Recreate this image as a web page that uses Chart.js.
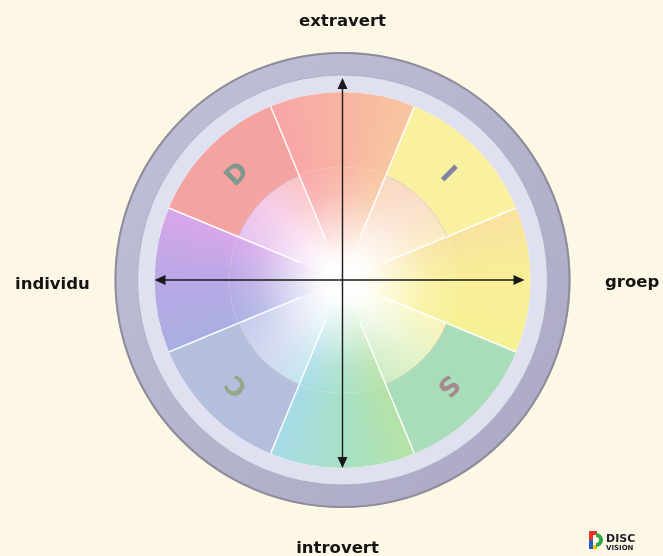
<!DOCTYPE html>
<html><head><meta charset="utf-8">
<script src="https://cdn.jsdelivr.net/npm/chart.js@4.4.1/dist/chart.umd.min.js"></script>
<style>html,body{margin:0;padding:0;background:#fdf7e5;}#wrap{width:663px;height:556px;position:relative}</style>
</head><body><div id="wrap"><canvas id="c" width="663" height="556"></canvas></div>
<script>
// sectors clockwise, starting with the top wedge
const categories = ['Extravert', 'I', 'Groep', 'S', 'Introvert', 'C', 'Individu', 'D'];
const sectorValues = [1, 1, 1, 1, 1, 1, 1, 1];
const discLetters = ['', 'I', '', 'S', '', 'C', '', 'D'];
const axisTop = 'extravert';
const axisBottom = 'introvert';
const axisLeft = 'individu';
const axisRight = 'groep';
const ringValue = [1];

const bandColors = [null, '#f9f1a0', null, '#a9dcb8', null, '#b3bfdc', null, '#f4a3a1'];
const letterColors = ['', 'rgba(115,120,160,0.9)', '', 'rgba(165,125,135,0.9)', '', 'rgba(145,160,125,0.85)', '', 'rgba(115,150,138,0.9)'];
const hueStops = [
  [0, '#f8ef96'], [0.0625, '#f7f196'], [0.125, '#d8eeb0'], [0.1875, '#b6e2a6'],
  [0.25, '#a6e0c6'], [0.3125, '#a6dbe8'], [0.375, '#bcc6ea'], [0.4375, '#a9afe2'],
  [0.5, '#b9a8e6'], [0.5625, '#d8a6ea'], [0.625, '#f0b0dc'], [0.6875, '#f8a6a8'],
  [0.75, '#f8b4a2'], [0.8125, '#f8c6a0'], [0.875, '#f8cfb0'], [0.9375, '#f8e2a0'], [1, '#f8ef96']
];

const cache = {};
function center(chart) {
  const a = chart.chartArea;
  return {x: (a.left + a.right) / 2, y: (a.top + a.bottom) / 2};
}
function conic(chart, pale) {
  const key = pale ? 'pale' : 'full';
  if (cache[key]) return cache[key];
  const {x, y} = center(chart);
  const g = chart.ctx.createConicGradient(0, x, y);
  hueStops.forEach(([o, c]) => {
    if (!pale) { g.addColorStop(o, c); return; }
    const r = parseInt(c.slice(1, 3), 16), gg = parseInt(c.slice(3, 5), 16), b = parseInt(c.slice(5, 7), 16);
    const m = v => Math.round(v + (255 - v) * 0.3);
    g.addColorStop(o, `rgb(${m(r)},${m(gg)},${m(b)})`);
  });
  cache[key] = g;
  return g;
}

const decor = {
  id: 'decor',
  afterDatasetsDraw(chart) {
    const ctx = chart.ctx;
    const band = chart.getDatasetMeta(2).data;
    const outer = chart.getDatasetMeta(0).data[0];
    const cx = band[0].x, cy = band[0].y;
    const rOut = band[0].outerRadius, rIn = band[0].innerRadius;
    ctx.save();
    // outer rim edge
    ctx.beginPath();
    ctx.arc(cx, cy, outer.outerRadius - 1, 0, Math.PI * 2);
    ctx.strokeStyle = '#8d8c99'; ctx.lineWidth = 2; ctx.stroke();
    ctx.beginPath();
    ctx.arc(cx, cy, outer.innerRadius, 0, Math.PI * 2);
    ctx.strokeStyle = 'rgba(150,148,175,0.6)'; ctx.lineWidth = 1; ctx.stroke();
    // separators
    band.forEach(arc => {
      const a = arc.startAngle;
      ctx.beginPath();
      ctx.moveTo(cx + Math.cos(a) * rOut, cy + Math.sin(a) * rOut);
      ctx.lineTo(cx + Math.cos(a) * 45, cy + Math.sin(a) * 45);
      ctx.strokeStyle = 'rgba(255,255,255,0.95)'; ctx.lineWidth = 1.5; ctx.stroke();
    });
    // white glow in the centre
    const R = rIn + 6;
    const g = ctx.createRadialGradient(cx, cy, 0, cx, cy, R);
    g.addColorStop(0, 'rgba(255,255,255,1)');
    g.addColorStop(0.18, 'rgba(255,255,255,0.95)');
    g.addColorStop(0.45, 'rgba(255,255,255,0.55)');
    g.addColorStop(0.72, 'rgba(255,255,255,0.18)');
    g.addColorStop(1, 'rgba(255,255,255,0)');
    ctx.beginPath(); ctx.arc(cx, cy, R, 0, Math.PI * 2);
    ctx.fillStyle = g; ctx.fill();
    // inner arcs of DISC sectors and letters
    band.forEach((arc, i) => {
      if (!discLetters[i]) return;
      ctx.beginPath();
      ctx.arc(cx, cy, rIn, arc.startAngle, arc.endAngle);
      ctx.strokeStyle = 'rgba(170,160,160,0.35)'; ctx.lineWidth = 1; ctx.stroke();
      const mid = (arc.startAngle + arc.endAngle) / 2;
      const rl = (rIn + rOut) / 2 - 2;
      ctx.save();
      ctx.translate(cx + Math.cos(mid) * rl, cy + Math.sin(mid) * rl);
      ctx.rotate(mid + Math.PI / 2);
      ctx.font = 'bold 26px "DejaVu Sans"';
      ctx.textAlign = 'center'; ctx.textBaseline = 'middle';
      ctx.fillStyle = letterColors[i];
      ctx.fillText(discLetters[i], 0, 0);
      ctx.restore();
    });
    // arrows
    ctx.strokeStyle = '#1a1a1a'; ctx.fillStyle = '#1a1a1a'; ctx.lineWidth = 1.4;
    const top = rOut + 14, bot = rOut, lft = rOut, rgt = rOut - 6;
    ctx.beginPath();
    ctx.moveTo(cx, cy - top + 4); ctx.lineTo(cx, cy + bot - 4);
    ctx.moveTo(cx - lft + 4, cy); ctx.lineTo(cx + rgt - 4, cy);
    ctx.stroke();
    const head = (tx, ty, dx, dy) => {
      const px = -dy, py = dx;
      ctx.beginPath();
      ctx.moveTo(tx, ty);
      ctx.lineTo(tx - dx * 11 + px * 5, ty - dy * 11 + py * 5);
      ctx.lineTo(tx - dx * 11 - px * 5, ty - dy * 11 - py * 5);
      ctx.closePath(); ctx.fill();
    };
    head(cx, cy - top, 0, -1);
    head(cx, cy + bot, 0, 1);
    head(cx - lft, cy, -1, 0);
    head(cx + rgt, cy, 1, 0);
    // axis labels
    ctx.font = 'bold 16.5px "DejaVu Sans"';
    ctx.fillStyle = '#141414';
    ctx.textBaseline = 'alphabetic';
    ctx.textAlign = 'center';
    ctx.fillText(axisTop, cx, 26);
    ctx.fillText(axisBottom, cx - 5, 553);
    ctx.textAlign = 'left';
    ctx.fillText(axisLeft, 15, 289);
    ctx.fillText(axisRight, 605, 287);
    // logo
    const lx = 591, ly = 533;
    ctx.lineWidth = 4;
    ctx.lineCap = 'butt';
    ctx.fillStyle = '#2a5cc8'; ctx.fillRect(lx - 2, ly + 7, 4, 9);
    ctx.fillStyle = '#e8322a'; ctx.fillRect(lx - 2, ly - 2, 4, 9); ctx.fillRect(lx - 2, ly - 2, 8, 4);
    ctx.fillStyle = '#f6c000'; ctx.fillRect(lx + 2, ly + 12, 4, 4);
    ctx.beginPath(); ctx.strokeStyle = '#2fa84a'; ctx.arc(lx + 5, ly + 7, 5, -Math.PI / 2, Math.PI / 2); ctx.stroke();
    ctx.fillStyle = '#1e1e2a';
    ctx.font = 'bold 11px "DejaVu Sans"';
    ctx.fillText('DISC', 606, 542);
    ctx.font = 'bold 7px "DejaVu Sans"';
    ctx.fillText('VISION', 606, 550);
    ctx.restore();
  }
};

new Chart(document.getElementById('c'), {
  type: 'doughnut',
  data: {
    labels: categories,
    datasets: [
      {label: 'rand', data: ringValue, weight: 23, borderWidth: 0,
        backgroundColor: (c) => {
          const ch = c.chart; if (!ch.chartArea) return '#b4b2cc';
          const {x, y} = center(ch);
          const g = ch.ctx.createLinearGradient(x - 200, y - 200, x + 200, y + 200);
          g.addColorStop(0, '#c0bfd7'); g.addColorStop(1, '#aba9c5');
          return g;
        }},
      {label: 'ring', data: ringValue, weight: 17, borderWidth: 0, backgroundColor: '#dfe0f0'},
      {label: 'band', data: sectorValues, weight: 75, borderWidth: 0,
        backgroundColor: (c) => {
          if (!c.chart.chartArea) return '#fff';
          return bandColors[c.dataIndex] || conic(c.chart, false);
        }},
      {label: 'kern', data: sectorValues, weight: 113, borderWidth: 0,
        backgroundColor: (c) => {
          if (!c.chart.chartArea) return '#fff';
          return conic(c.chart, !!discLetters[c.dataIndex]);
        }}
    ]
  },
  options: {
    responsive: false,
    animation: false,
    events: [],
    rotation: -22.5,
    cutout: 0,
    radius: 228,
    layout: {padding: {left: 114.5, right: 92.5, top: 52, bottom: 48}},
    plugins: {legend: {display: false}, tooltip: {enabled: false}}
  },
  plugins: [decor]
});
</script>
</body></html>
